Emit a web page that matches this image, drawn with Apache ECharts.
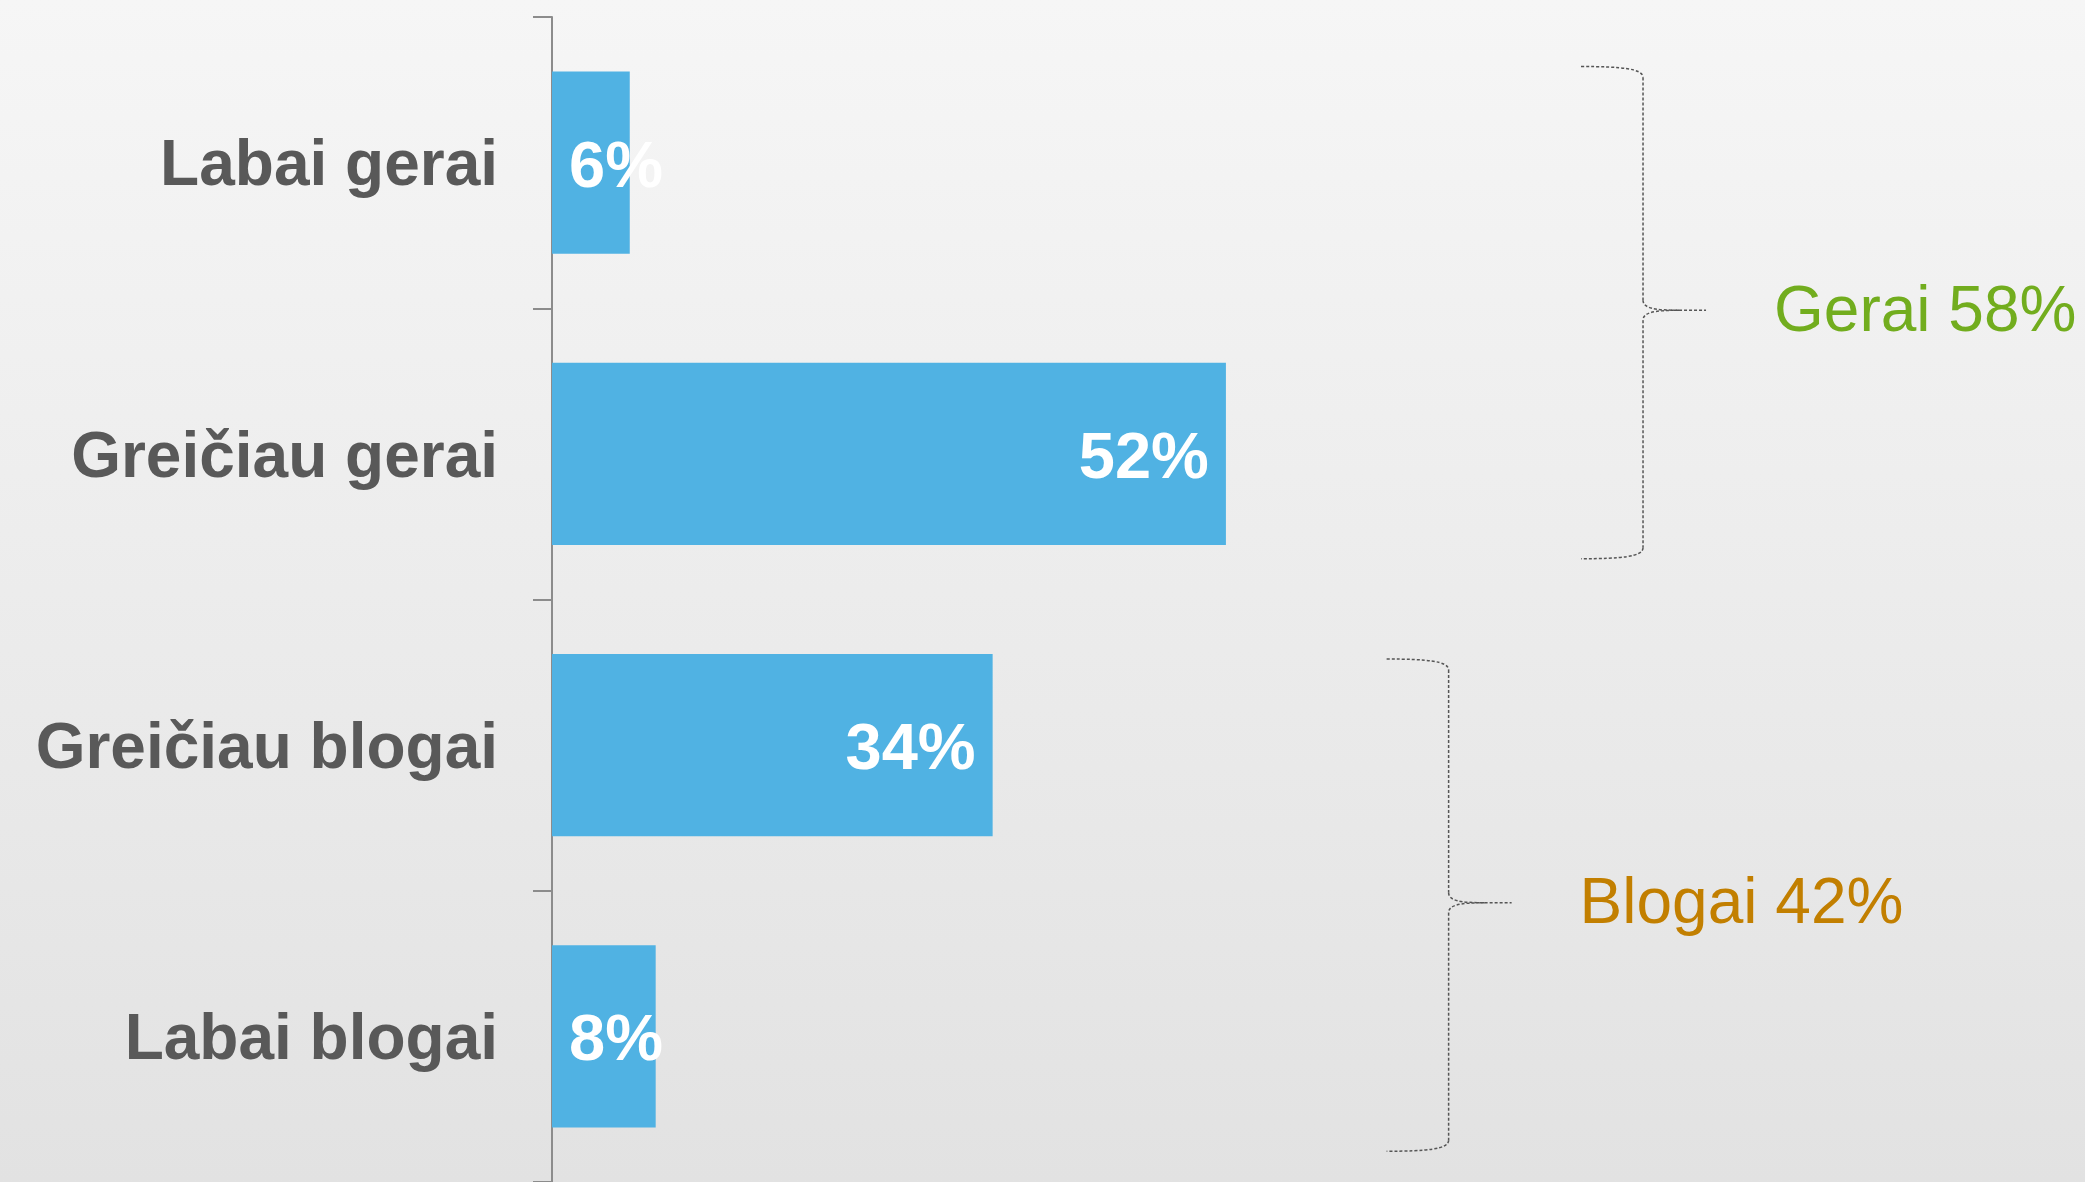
<!DOCTYPE html>
<html>
<head>
<meta charset="utf-8">
<script src="https://cdn.jsdelivr.net/npm/echarts@6/dist/echarts.min.js"></script>
<style>
  html, body {
    margin: 0;
    padding: 0;
    width: 2085px;
    height: 1182px;
    overflow: hidden;
    background: linear-gradient(to bottom, #f6f6f6 0%, #e2e2e2 100%);
  }
  #chart {
    width: 2085px;
    height: 1182px;
  }
</style>
</head>
<body>
<div id="chart"></div>
<script>
  // answers, top to bottom
  var categories = ['Labai gerai', 'Greičiau gerai', 'Greičiau blogai', 'Labai blogai'];
  var values = [6, 52, 34, 8];

  // brace groups on the right
  var groupNames = ['Gerai', 'Blogai'];
  var groupTotals = [58, 42];
  var groupFirst = [0, 2];
  var groupLast = [1, 3];
  var groupColors = ['#72ad1e', '#c27f00'];
  // where the brace starts, in axis units, and a small vertical nudge in px
  var groupBraceAt = [79.4, 64.4];
  var groupNudge = [0, 10];

  var fontName = '"Liberation Sans", Arial, Helvetica, sans-serif';

  var myChart = echarts.init(document.getElementById('chart'), null, {renderer: 'canvas'});

  var barData = values.map(function (v) {
    // small bars keep the label at the start, like the original
    return {
      value: v,
      label: {position: v < 15 ? 'insideLeft' : 'insideRight'}
    };
  });

  var option = {
    backgroundColor: 'transparent',
    animation: false,
    grid: {
      left: 552,
      top: 17,
      width: 1296,
      height: 1172
    },
    xAxis: {
      type: 'value',
      min: 0,
      max: 100,
      show: false
    },
    yAxis: {
      type: 'category',
      inverse: true,
      data: categories,
      axisLine: {
        show: true,
        lineStyle: {color: '#8c8c8c', width: 2}
      },
      axisTick: {
        show: true,
        length: 19,
        lineStyle: {color: '#8c8c8c', width: 2}
      },
      splitLine: {show: false},
      axisLabel: {
        margin: 54,
        formatter: function (v) {
          return '{t|' + v + '}';
        },
        rich: {
          t: {
            color: '#595959',
            fontSize: 64,
            fontWeight: 'bold',
            fontFamily: fontName,
            padding: [10, 0, 0, 0]
          }
        }
      }
    },
    series: [
      {
        type: 'bar',
        data: barData,
        barWidth: '62.5%',
        itemStyle: {color: '#50b2e3'},
        label: {
          show: true,
          distance: 17,
          offset: [0, 6],
          formatter: '{c}%',
          color: '#ffffff',
          fontSize: 65,
          fontWeight: 'bold',
          fontFamily: fontName
        }
      }
    ]
  };

  myChart.setOption(option);

  var braceStyle = {
    fill: null,
    stroke: '#555555',
    lineWidth: 1.5,
    lineDash: [3, 2]
  };

  function seg(a, b, c, d) {
    return {type: 'line', silent: true, shape: {x1: a, y1: b, x2: c, y2: d}, style: braceStyle};
  }

  function curve(a, b, p1x, p1y, p2x, p2y, c, d) {
    return {
      type: 'bezierCurve',
      silent: true,
      shape: {x1: a, y1: b, cpx1: p1x, cpy1: p1y, cpx2: p2x, cpy2: p2y, x2: c, y2: d},
      style: braceStyle
    };
  }

  // braces + group totals, placed from the axes
  function braceGraphics() {
    var c0 = myChart.convertToPixel({yAxisIndex: 0}, categories[0]);
    var c1 = myChart.convertToPixel({yAxisIndex: 0}, categories[1]);
    var band = c1 - c0;
    var out = [];
    groupNames.forEach(function (name, i) {
      var yFirst = myChart.convertToPixel({yAxisIndex: 0}, categories[groupFirst[i]]);
      var yLast = myChart.convertToPixel({yAxisIndex: 0}, categories[groupLast[i]]);
      var top = yFirst - band / 2 + 0.17 * band + groupNudge[i];
      var bot = yLast + band / 2 - 0.14 * band + groupNudge[i];
      var mid = (yFirst + yLast) / 2 + 2 + groupNudge[i];
      var x0 = myChart.convertToPixel({xAxisIndex: 0}, groupBraceAt[i]);
      var x1 = x0 + 62;
      var x2 = x0 + 125;
      out.push(curve(x0, top, x1 - 22, top, x1, top + 2, x1, top + 11));
      out.push(seg(x1, top + 11, x1, mid - 10));
      out.push(curve(x1, mid - 10, x1, mid - 2, x1 + 12, mid, x1 + 36, mid));
      out.push(seg(x1 + 36, mid, x2, mid));
      out.push(curve(x1 + 36, mid, x1 + 12, mid, x1, mid + 2, x1, mid + 10));
      out.push(seg(x1, mid + 10, x1, bot - 11));
      out.push(curve(x1, bot - 11, x1, bot - 2, x1 - 22, bot, x0, bot));
      out.push({
        type: 'text',
        x: x2 + 68,
        y: mid + 3,
        style: {
          text: name + ' ' + groupTotals[i] + '%',
          fill: groupColors[i],
          fontSize: 64,
          fontFamily: fontName,
          verticalAlign: 'middle',
          align: 'left'
        },
        silent: true
      });
    });
    return out;
  }

  myChart.setOption({graphic: braceGraphics()});
</script>
</body>
</html>
